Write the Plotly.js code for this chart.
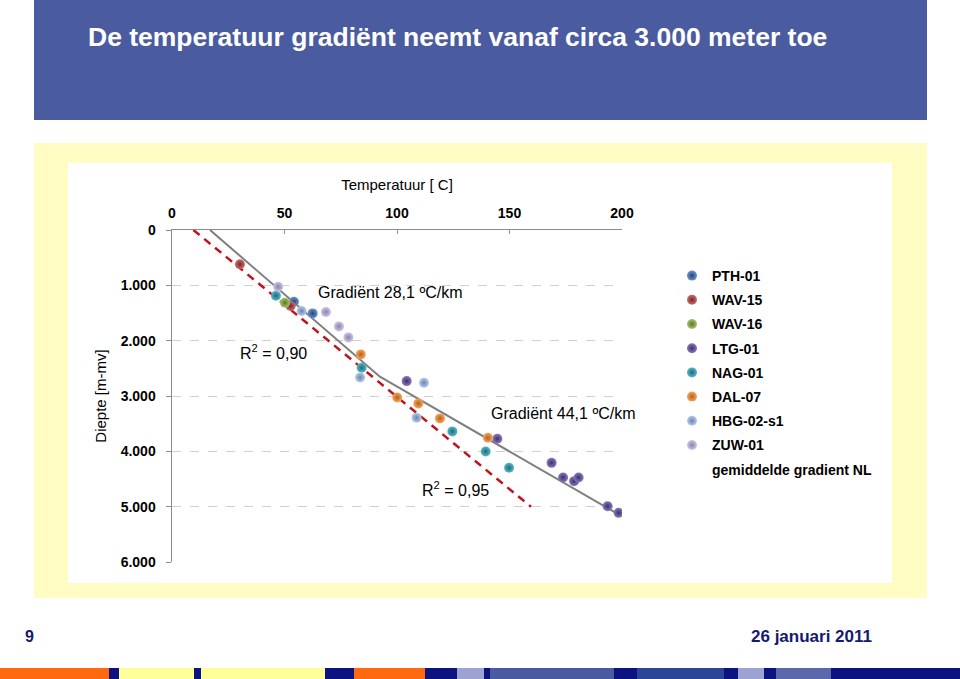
<!DOCTYPE html>
<html>
<head>
<meta charset="utf-8">
<script src="https://cdn.plot.ly/plotly-3.0.1.min.js"></script>
<style>
html,body{margin:0;padding:0;background:#ffffff;}
#chart{width:960px;height:679px;}
</style>
</head>
<body>
<div id="chart"></div>
<script>
// ---- data (temperature in °C, depth in m) ----
const seriesNames = ["PTH-01","WAV-15","WAV-16","LTG-01","NAG-01","DAL-07","HBG-02-s1","ZUW-01"];
const PTH01_T = [54.2, 62.5];
const PTH01_D = [1296, 1507];
const WAV15_T = [30.2, 52.7];
const WAV15_D = [620, 1374];
const WAV16_T = [50.2];
const WAV16_D = [1314];
const LTG01_T = [104.3, 144.6, 168.7, 173.8, 178.7, 180.7, 193.6, 198.5];
const LTG01_D = [2731, 3774, 4208, 4472, 4539, 4472, 4991, 5112];
const NAG01_T = [46.2, 84.3, 124.6, 139.4, 149.8];
const NAG01_D = [1188, 2490, 3640, 4002, 4298];
const DAL07_T = [83.9, 100.1, 109.5, 119.1, 140.4];
const DAL07_D = [2248, 3026, 3134, 3405, 3756];
const HBG02_T = [57.6, 83.6, 112.0, 108.7];
const HBG02_D = [1465, 2664, 2761, 3394];
const ZUW01_T = [47.2, 68.4, 74.2, 78.4];
const ZUW01_D = [1025, 1483, 1742, 1941];
// trend lines
const nlGradT = [9.5, 159.6];
const nlGradD = [0, 5003];
const fitT = [16.9, 92.4, 197.3];
const fitD = [0, 2652, 5112];
const xTicks = [0, 50, 100, 150, 200];
const yTicks = [0, 1000, 2000, 3000, 4000, 5000, 6000];

const seriesT = [PTH01_T, WAV15_T, WAV16_T, LTG01_T, NAG01_T, DAL07_T, HBG02_T, ZUW01_T];
const seriesD = [PTH01_D, WAV15_D, WAV16_D, LTG01_D, NAG01_D, DAL07_D, HBG02_D, ZUW01_D];
const lightCol = ["#6f95c8","#c87070","#a8c46a","#8a7ab8","#5ab8c8","#f4a860","#bccbe6","#cdc6e4"];
const darkCol  = ["#23467e","#7e2626","#5a7a26","#3f2f72","#1a6c7c","#b8601a","#6a84b4","#8a82ae"];

// ---- layout geometry (pixels) ----
const W = 960, H = 679;
const L = 172, R = 338, T = 230, B = 117;
const PW = W - L - R, PH = H - T - B;
const px = x => (x - L) / PW;
const py = y => (H - B - y) / PH;

const traces = [];
traces.push({x: nlGradT, y: nlGradD, type: 'scatter', mode: 'lines', showlegend: false,
  line: {color: '#c0141c', width: 2.5, dash: '8px,6px'}, hoverinfo: 'skip'});
traces.push({x: fitT, y: fitD, type: 'scatter', mode: 'lines', showlegend: false,
  line: {color: '#7f7f7f', width: 2}, hoverinfo: 'skip'});
for (let i = 0; i < seriesNames.length; i++) {
  traces.push({x: seriesT[i], y: seriesD[i], type: 'scatter', mode: 'markers', name: seriesNames[i],
    legendgroup: 'g' + i,
    marker: {size: 10, color: lightCol[i], gradient: {type: 'radial', color: darkCol[i]}, line: {width: 0}}});
}
// legend-only entry for the average gradient
traces.push({x: [null], y: [null], type: 'scatter', mode: 'lines', name: 'gemiddelde gradient NL',
  legendgroup: 'g8', line: {color: 'rgba(0,0,0,0)', width: 0}});

const shapes = [
  {type:'rect', xref:'paper', yref:'paper', x0:px(34), x1:px(927), y0:py(120), y1:py(0), fillcolor:'#4b5b9f', line:{width:0}, layer:'below'},
  {type:'rect', xref:'paper', yref:'paper', x0:px(34), x1:px(927), y0:py(598), y1:py(143), fillcolor:'#fffcc4', line:{width:0}, layer:'below'},
  {type:'rect', xref:'paper', yref:'paper', x0:px(68), x1:px(892), y0:py(583), y1:py(163), fillcolor:'#ffffff', line:{width:0}, layer:'below'}
];
const barSegs = [[0,109,'#ff6a10'],[109,119,'#0c1280'],[119,194,'#ffff99'],[194,201,'#0c1280'],[201,325,'#ffff99'],
  [325,354,'#0c1280'],[354,425,'#ff6a10'],[425,457,'#0c1280'],[457,484,'#9da2d2'],[484,490,'#0c1280'],
  [490,614,'#4a5aa0'],[614,637,'#0c1280'],[637,724,'#2b4597'],[724,738,'#0c1280'],[738,764,'#9da2d2'],
  [764,776,'#0c1280'],[776,831,'#5a68ac'],[831,960,'#0c1280']];
barSegs.forEach(s => shapes.push({type:'rect', xref:'paper', yref:'paper', x0:px(s[0]), x1:px(s[1]), y0:py(679), y1:py(668), fillcolor:s[2], line:{width:0}, layer:'below'}));

const ann = (x, y, text, opts) => Object.assign({xref:'paper', yref:'paper', x:px(x), y:py(y), text:text, showarrow:false,
  xanchor:'center', yanchor:'middle', font:{family:'Liberation Sans, Arial, sans-serif', size:16, color:'#000'}}, opts || {});

const annotations = [
  ann(86, 37, 'De temperatuur gradiënt neemt vanaf circa 3.000 meter toe', {xanchor:'left', font:{family:'Liberation Sans, Arial, sans-serif', size:26.5, color:'#ffffff', weight:'bold'}}),
  ann(390, 292, 'Gradiënt 28,1 ºC/km'),
  ann(273, 352, 'R<sup>2</sup> = 0,90'),
  ann(563, 413, 'Gradiënt 44,1 ºC/km'),
  ann(455, 489, 'R<sup>2</sup> = 0,95'),
  ann(29, 636, '9', {font:{family:'Liberation Sans, Arial, sans-serif', size:16, color:'#141a70', weight:'bold'}}),
  ann(874, 636, '26 januari 2011', {xanchor:'right', font:{family:'Liberation Sans, Arial, sans-serif', size:17, color:'#141a70', weight:'bold'}})
];

const layout = {
  width: W, height: H,
  margin: {l: L, r: R, t: T, b: B, pad: 0},
  paper_bgcolor: '#ffffff', plot_bgcolor: 'rgba(0,0,0,0)',
  separators: ',.',
  font: {family: 'Liberation Sans, Arial, sans-serif', color: '#000'},
  showlegend: true,
  legend: {x: px(672), y: py(260), xanchor: 'left', yanchor: 'top', bgcolor: 'rgba(0,0,0,0)',
    font: {size: 14, weight: 'bold', color: '#000'}, itemwidth: 30, tracegroupgap: 3, traceorder: 'grouped', itemsizing: 'trace'},
  xaxis: {range: [0, 200], side: 'top', tickvals: xTicks, ticks: 'inside', ticklen: 4, tickcolor: '#8c8c8c',
    showline: true, linecolor: '#8c8c8c', linewidth: 1.5, showgrid: false, zeroline: false,
    tickfont: {size: 14, weight: 'bold'}, ticklabelstandoff: 5,
    title: {text: 'Temperatuur [ C]', font: {size: 15}, standoff: 10}},
  yaxis: {range: [6000, 0], tickvals: yTicks, tickformat: ',d', ticks: 'outside', ticklen: 5, tickcolor: '#8c8c8c',
    showline: true, linecolor: '#8c8c8c', linewidth: 1.5, showgrid: true, gridcolor: '#d0d0d0', griddash: 'dash', gridwidth: 1,
    zeroline: false, tickfont: {size: 14, weight: 'bold'}, ticklabelstandoff: 7,
    title: {text: 'Diepte [m-mv]', font: {size: 15}, standoff: 10}},
  shapes: shapes,
  annotations: annotations
};

Plotly.newPlot('chart', traces, layout, {displayModeBar: false, staticPlot: true});
</script>
</body>
</html>
